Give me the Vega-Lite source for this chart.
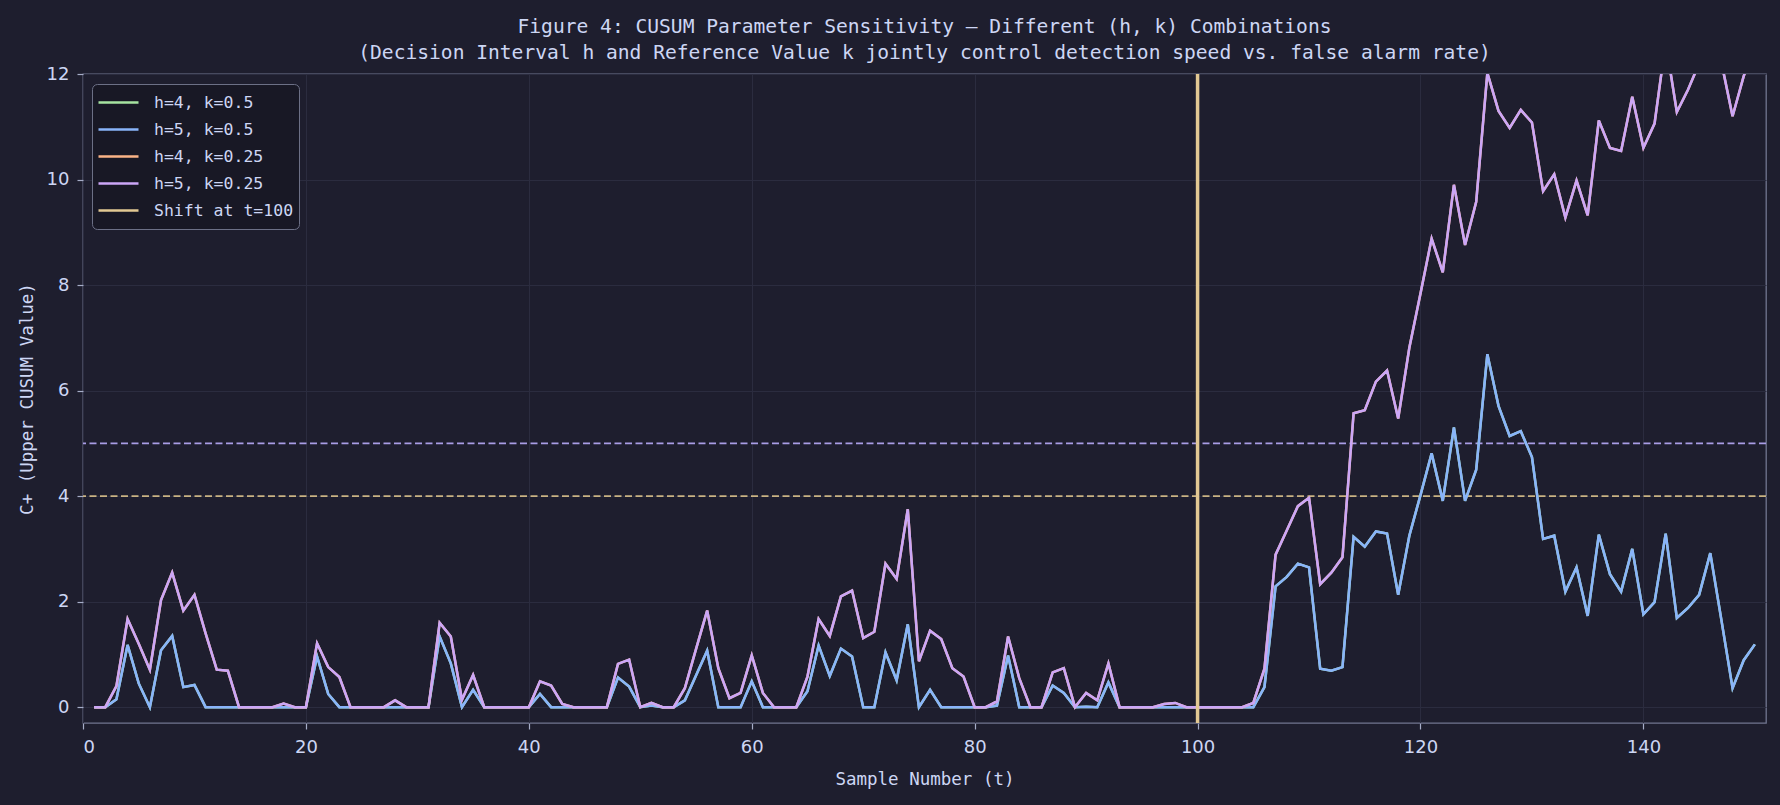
{
  "$schema": "https://vega.github.io/schema/vega-lite/v6.json",
  "description": "CUSUM parameter sensitivity for different (h, k) combinations",
  "width": 1683,
  "height": 649,
  "autosize": {"type": "none"},
  "padding": {"left": 83, "top": 74, "right": 14, "bottom": 82},
  "background": "#1e1e2e",
  "title": {
    "text": [
      "Figure 4: CUSUM Parameter Sensitivity — Different (h, k) Combinations",
      "(Decision Interval h and Reference Value k jointly control detection speed vs. false alarm rate)"
    ],
    "font": "DejaVu Sans Mono",
    "fontSize": 19.6,
    "fontWeight": "normal",
    "color": "#cdd6f4",
    "anchor": "middle",
    "lineHeight": 26,
    "baseline": "bottom",
    "offset": -18
  },
  "config": {
    "view": {"stroke": "#717690", "strokeWidth": 1.3, "fill": "#1e1e2e"},
    "axis": {
      "domain": false,
      "grid": true,
      "gridColor": "#2b2c3f",
      "gridWidth": 1,
      "tickColor": "#a6adc8",
      "tickSize": 6,
      "tickWidth": 1.2,
      "labelFont": "DejaVu Sans",
      "labelFontSize": 18,
      "labelColor": "#cdd6f4",
      "titleFont": "DejaVu Sans Mono",
      "titleFontSize": 17.5,
      "titleFontWeight": "normal",
      "titleColor": "#cdd6f4"
    },
    "legend": {
      "orient": "none",
      "legendX": 9,
      "legendY": 10,
      "direction": "vertical",
      "symbolType": "stroke",
      "symbolSize": 1600,
      "symbolStrokeWidth": 2.5,
      "clipHeight": 27,
      "rowPadding": 0,
      "labelFont": "DejaVu Sans Mono",
      "labelFontSize": 16.5,
      "labelColor": "#cdd6f4",
      "labelOffset": 14,
      "fillColor": "#181825",
      "strokeColor": "#6c7086",
      "cornerRadius": 5,
      "padding": 5
    }
  },
  "data": {
    "values": [
      {"t": 1, "c05": 0, "c025": 0},
      {"t": 2, "c05": 0, "c025": 0},
      {"t": 3, "c05": 0.15, "c025": 0.40},
      {"t": 4, "c05": 1.18, "c025": 1.67},
      {"t": 5, "c05": 0.45, "c025": 1.20},
      {"t": 6, "c05": 0, "c025": 0.71},
      {"t": 7, "c05": 1.08, "c025": 2.03},
      {"t": 8, "c05": 1.35, "c025": 2.55},
      {"t": 9, "c05": 0.38, "c025": 1.83},
      {"t": 10, "c05": 0.42, "c025": 2.13},
      {"t": 11, "c05": 0, "c025": 1.40},
      {"t": 12, "c05": 0, "c025": 0.71},
      {"t": 13, "c05": 0, "c025": 0.69},
      {"t": 14, "c05": 0, "c025": 0},
      {"t": 15, "c05": 0, "c025": 0},
      {"t": 16, "c05": 0, "c025": 0},
      {"t": 17, "c05": 0, "c025": 0},
      {"t": 18, "c05": 0, "c025": 0.07},
      {"t": 19, "c05": 0, "c025": 0},
      {"t": 20, "c05": 0, "c025": 0},
      {"t": 21, "c05": 0.96, "c025": 1.21},
      {"t": 22, "c05": 0.25, "c025": 0.76},
      {"t": 23, "c05": 0, "c025": 0.57},
      {"t": 24, "c05": 0, "c025": 0},
      {"t": 25, "c05": 0, "c025": 0},
      {"t": 26, "c05": 0, "c025": 0},
      {"t": 27, "c05": 0, "c025": 0},
      {"t": 28, "c05": 0, "c025": 0.13},
      {"t": 29, "c05": 0, "c025": 0},
      {"t": 30, "c05": 0, "c025": 0},
      {"t": 31, "c05": 0, "c025": 0},
      {"t": 32, "c05": 1.34, "c025": 1.60},
      {"t": 33, "c05": 0.83, "c025": 1.34},
      {"t": 34, "c05": 0, "c025": 0.14},
      {"t": 35, "c05": 0.33, "c025": 0.61},
      {"t": 36, "c05": 0, "c025": 0},
      {"t": 37, "c05": 0, "c025": 0},
      {"t": 38, "c05": 0, "c025": 0},
      {"t": 39, "c05": 0, "c025": 0},
      {"t": 40, "c05": 0, "c025": 0},
      {"t": 41, "c05": 0.25, "c025": 0.49},
      {"t": 42, "c05": 0, "c025": 0.41},
      {"t": 43, "c05": 0, "c025": 0.06},
      {"t": 44, "c05": 0, "c025": 0},
      {"t": 45, "c05": 0, "c025": 0},
      {"t": 46, "c05": 0, "c025": 0},
      {"t": 47, "c05": 0, "c025": 0},
      {"t": 48, "c05": 0.56, "c025": 0.82},
      {"t": 49, "c05": 0.39, "c025": 0.90},
      {"t": 50, "c05": 0, "c025": 0},
      {"t": 51, "c05": 0.03, "c025": 0.08},
      {"t": 52, "c05": 0, "c025": 0},
      {"t": 53, "c05": 0, "c025": 0},
      {"t": 54, "c05": 0.13, "c025": 0.36},
      {"t": 55, "c05": 0.60, "c025": 1.10},
      {"t": 56, "c05": 1.07, "c025": 1.83},
      {"t": 57, "c05": 0, "c025": 0.74},
      {"t": 58, "c05": 0, "c025": 0.17},
      {"t": 59, "c05": 0, "c025": 0.27},
      {"t": 60, "c05": 0.49, "c025": 0.98},
      {"t": 61, "c05": 0, "c025": 0.27},
      {"t": 62, "c05": 0, "c025": 0},
      {"t": 63, "c05": 0, "c025": 0},
      {"t": 64, "c05": 0, "c025": 0},
      {"t": 65, "c05": 0.30, "c025": 0.58},
      {"t": 66, "c05": 1.17, "c025": 1.67},
      {"t": 67, "c05": 0.59, "c025": 1.35},
      {"t": 68, "c05": 1.11, "c025": 2.10},
      {"t": 69, "c05": 0.96, "c025": 2.21},
      {"t": 70, "c05": 0, "c025": 1.31},
      {"t": 71, "c05": 0, "c025": 1.43},
      {"t": 72, "c05": 1.04, "c025": 2.72},
      {"t": 73, "c05": 0.51, "c025": 2.43},
      {"t": 74, "c05": 1.57, "c025": 3.75},
      {"t": 75, "c05": 0, "c025": 0.87},
      {"t": 76, "c05": 0.33, "c025": 1.45},
      {"t": 77, "c05": 0, "c025": 1.29},
      {"t": 78, "c05": 0, "c025": 0.74},
      {"t": 79, "c05": 0, "c025": 0.58},
      {"t": 80, "c05": 0, "c025": 0},
      {"t": 81, "c05": 0, "c025": 0},
      {"t": 82, "c05": 0.03, "c025": 0.11},
      {"t": 83, "c05": 0.98, "c025": 1.34},
      {"t": 84, "c05": 0, "c025": 0.55},
      {"t": 85, "c05": 0, "c025": 0},
      {"t": 86, "c05": 0, "c025": 0},
      {"t": 87, "c05": 0.41, "c025": 0.66},
      {"t": 88, "c05": 0.27, "c025": 0.74},
      {"t": 89, "c05": 0, "c025": 0},
      {"t": 90, "c05": 0.01, "c025": 0.27},
      {"t": 91, "c05": 0, "c025": 0.13},
      {"t": 92, "c05": 0.47, "c025": 0.83},
      {"t": 93, "c05": 0, "c025": 0},
      {"t": 94, "c05": 0, "c025": 0},
      {"t": 95, "c05": 0, "c025": 0},
      {"t": 96, "c05": 0, "c025": 0},
      {"t": 97, "c05": 0, "c025": 0.06},
      {"t": 98, "c05": 0, "c025": 0.08},
      {"t": 99, "c05": 0, "c025": 0},
      {"t": 100, "c05": 0, "c025": 0},
      {"t": 101, "c05": 0, "c025": 0},
      {"t": 102, "c05": 0, "c025": 0},
      {"t": 103, "c05": 0, "c025": 0},
      {"t": 104, "c05": 0, "c025": 0},
      {"t": 105, "c05": 0, "c025": 0.08},
      {"t": 106, "c05": 0.38, "c025": 0.73},
      {"t": 107, "c05": 2.29, "c025": 2.89},
      {"t": 108, "c05": 2.47, "c025": 3.35},
      {"t": 109, "c05": 2.72, "c025": 3.81},
      {"t": 110, "c05": 2.65, "c025": 3.97},
      {"t": 111, "c05": 0.73, "c025": 2.33},
      {"t": 112, "c05": 0.69, "c025": 2.55},
      {"t": 113, "c05": 0.76, "c025": 2.84},
      {"t": 114, "c05": 3.23, "c025": 5.57},
      {"t": 115, "c05": 3.04, "c025": 5.63},
      {"t": 116, "c05": 3.33, "c025": 6.17},
      {"t": 117, "c05": 3.29, "c025": 6.38},
      {"t": 118, "c05": 2.13, "c025": 5.47},
      {"t": 119, "c05": 3.25, "c025": 6.81},
      {"t": 120, "c05": 4.02, "c025": 7.84},
      {"t": 121, "c05": 4.81, "c025": 8.88},
      {"t": 122, "c05": 3.91, "c025": 8.24},
      {"t": 123, "c05": 5.30, "c025": 9.90},
      {"t": 124, "c05": 3.91, "c025": 8.76},
      {"t": 125, "c05": 4.50, "c025": 9.58},
      {"t": 126, "c05": 6.69, "c025": 12.02},
      {"t": 127, "c05": 5.71, "c025": 11.30},
      {"t": 128, "c05": 5.14, "c025": 10.98},
      {"t": 129, "c05": 5.23, "c025": 11.32},
      {"t": 130, "c05": 4.74, "c025": 11.08},
      {"t": 131, "c05": 3.19, "c025": 9.78},
      {"t": 132, "c05": 3.25, "c025": 10.10},
      {"t": 133, "c05": 2.19, "c025": 9.28},
      {"t": 134, "c05": 2.65, "c025": 9.98},
      {"t": 135, "c05": 1.73, "c025": 9.32},
      {"t": 136, "c05": 3.27, "c025": 11.12},
      {"t": 137, "c05": 2.52, "c025": 10.60},
      {"t": 138, "c05": 2.19, "c025": 10.54},
      {"t": 139, "c05": 3.00, "c025": 11.57},
      {"t": 140, "c05": 1.76, "c025": 10.60},
      {"t": 141, "c05": 1.99, "c025": 11.06},
      {"t": 142, "c05": 3.29, "c025": 12.61},
      {"t": 143, "c05": 1.69, "c025": 11.28},
      {"t": 144, "c05": 1.88, "c025": 11.70},
      {"t": 145, "c05": 2.13, "c025": 12.20},
      {"t": 146, "c05": 2.92, "c025": 13.24},
      {"t": 147, "c05": 1.65, "c025": 12.22},
      {"t": 148, "c05": 0.36, "c025": 11.20},
      {"t": 149, "c05": 0.89, "c025": 11.96},
      {"t": 150, "c05": 1.19, "c025": 12.51}
    ]
  },
  "layer": [
    {
      "data": {"values": [{"h": 5}]},
      "mark": {"type": "rule", "strokeDash": [7, 3.5], "strokeWidth": 1.6, "color": "#a99de6"},
      "encoding": {"y": {"field": "h", "type": "quantitative"}}
    },
    {
      "data": {"values": [{"h": 4}]},
      "mark": {"type": "rule", "strokeDash": [7, 3.5], "strokeWidth": 1.6, "color": "#c9b383"},
      "encoding": {"y": {"field": "h", "type": "quantitative"}}
    },
    {
      "mark": {"type": "line", "strokeWidth": 2.5, "clip": true},
      "encoding": {
        "x": {
          "field": "t",
          "type": "quantitative",
          "title": "Sample Number (t)",
          "scale": {"domain": [0, 151], "nice": false, "zero": false},
          "axis": {"values": [0, 20, 40, 60, 80, 100, 120, 140], "labelPadding": 9, "titlePadding": 14}
        },
        "y": {
          "field": "c05",
          "type": "quantitative",
          "title": "C+ (Upper CUSUM Value)",
          "scale": {"domain": [-0.3, 12], "nice": false, "zero": false},
          "axis": {"values": [0, 2, 4, 6, 8, 10, 12], "labelPadding": 8, "titlePadding": 10}
        },
        "color": {
          "datum": "h=4, k=0.5",
          "type": "nominal",
          "title": null,
          "scale": {
            "domain": ["h=4, k=0.5", "h=5, k=0.5", "h=4, k=0.25", "h=5, k=0.25", "Shift at t=100"],
            "range": ["#a6e3a1", "#89b4fa", "#fab387", "#cba6f7", "#e2c893"]
          }
        }
      }
    },
    {
      "mark": {"type": "line", "strokeWidth": 2.5, "clip": true},
      "encoding": {
        "x": {"field": "t", "type": "quantitative"},
        "y": {"field": "c05", "type": "quantitative"},
        "color": {"datum": "h=5, k=0.5", "type": "nominal"}
      }
    },
    {
      "mark": {"type": "line", "strokeWidth": 2.5, "clip": true},
      "encoding": {
        "x": {"field": "t", "type": "quantitative"},
        "y": {"field": "c025", "type": "quantitative"},
        "color": {"datum": "h=4, k=0.25", "type": "nominal"}
      }
    },
    {
      "mark": {"type": "line", "strokeWidth": 2.5, "clip": true},
      "encoding": {
        "x": {"field": "t", "type": "quantitative"},
        "y": {"field": "c025", "type": "quantitative"},
        "color": {"datum": "h=5, k=0.25", "type": "nominal"}
      }
    },
    {
      "data": {"values": [{"shift": 100, "label": "Shift at t=100"}]},
      "mark": {"type": "rule", "strokeWidth": 3.5},
      "encoding": {
        "x": {"field": "shift", "type": "quantitative"},
        "color": {"field": "label", "type": "nominal"}
      }
    }
  ]
}
